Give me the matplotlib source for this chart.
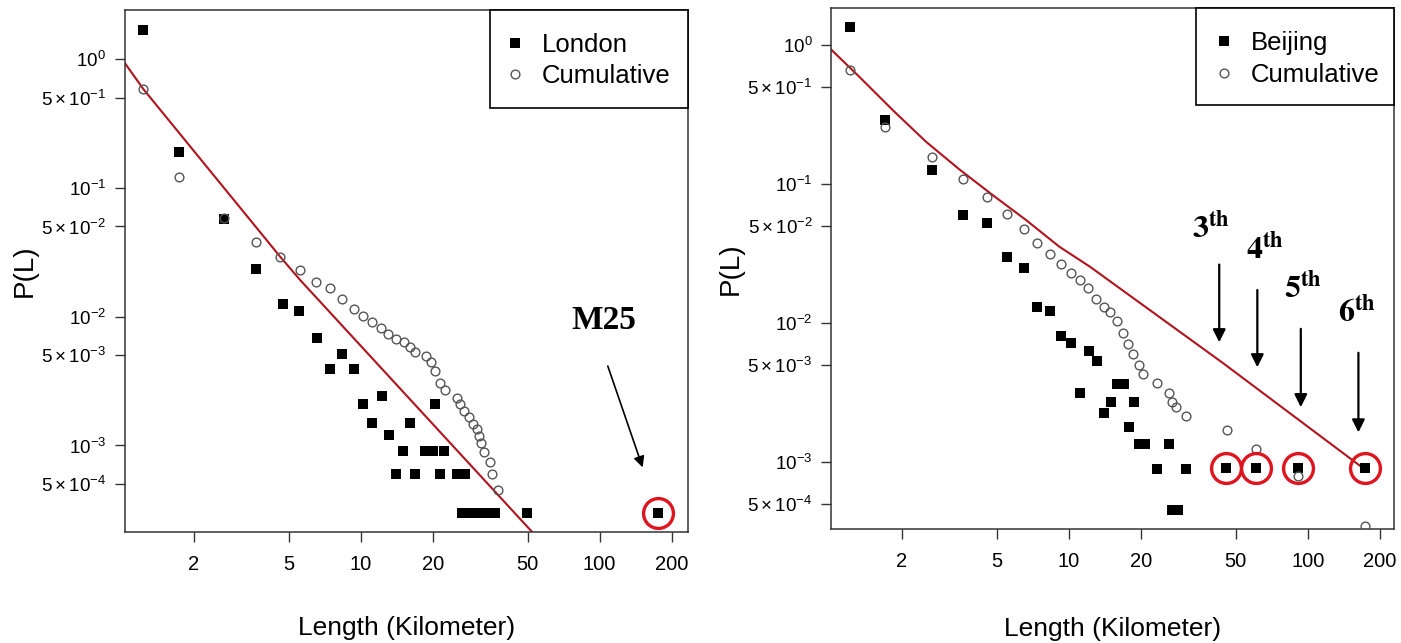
import numpy as np
import matplotlib
matplotlib.use('Agg')
import matplotlib.pyplot as plt
from matplotlib.patches import Rectangle
from matplotlib.ticker import NullLocator

plt.rcParams['font.family'] = 'Liberation Sans'
plt.rcParams['mathtext.fontset'] = 'custom'
plt.rcParams['mathtext.rm'] = 'Liberation Sans'
plt.rcParams['mathtext.it'] = 'Liberation Sans:italic'
plt.rcParams['mathtext.bf'] = 'Liberation Sans:bold'

# ---- London (left) ----
london_L = [1.23, 1.73, 2.69, 3.65, 4.73, 5.54, 6.55, 7.47, 8.38, 9.36, 10.26, 11.2,
            12.25, 13.1, 14.0, 15.0, 16.0, 16.8, 18.5, 20.0, 20.5, 21.5, 22.4, 25.2,
            27.4, 26.6, 28.0, 29.5, 31.0, 32.7, 34.5, 36.5, 49.5, 176]
london_P = [1.67, 0.188, 0.057, 0.0232, 0.0125, 0.0110, 0.0068, 0.0039, 0.0051, 0.0039,
            0.0021, 0.0015, 0.0024, 0.0012, 0.0006, 0.0009, 0.0015, 0.0006, 0.0009, 0.0009,
            0.0021, 0.0006, 0.0009, 0.0006, 0.0006, 0.0003, 0.0003, 0.0003, 0.0003, 0.0003,
            0.0003, 0.0003, 0.0003, 0.0003]
london_cum_L = [1.23, 1.73, 2.69, 3.65, 4.61, 5.56, 6.51, 7.45, 8.38, 9.38, 10.26, 11.2,
                12.1, 13.06, 14.07, 15.1, 16.0, 16.9, 18.7, 19.7, 20.5, 21.5, 22.5, 25.2,
                26.1, 27.1, 28.4, 29.4, 30.6, 31.4, 31.9, 32.9, 34.6, 35.5, 37.6]
london_cum_P = [0.582, 0.120, 0.058, 0.038, 0.029, 0.0231, 0.0186, 0.0166, 0.01375, 0.01143,
                0.01014, 0.00912, 0.00819, 0.00732, 0.00672, 0.00634, 0.00583, 0.00533,
                0.00494, 0.00446, 0.00378, 0.00306, 0.00269, 0.00234, 0.00209, 0.00186,
                0.00167, 0.00148, 0.00133, 0.00119, 0.00104, 0.00089, 0.00074, 0.0006, 0.00045]
london_fit_L = [1.0, 1.231, 4.61, 5.58, 52.3]
london_fit_P = [1.0, 0.582, 0.029, 0.0192, 2.12e-4]
london_hl_L = [176]
london_hl_P = [0.0003]

# ---- Beijing (right) ----
beijing_L = [1.214, 1.70, 2.67, 3.62, 4.56, 5.51, 6.48, 7.38, 8.37, 9.25, 10.24, 11.14,
             12.1, 13.13, 14.0, 14.97, 15.87, 17.0, 17.8, 18.7, 19.7, 20.8, 23.4, 26.2,
             26.97, 28.5, 30.8, 45.5, 60.8, 91.3, 174]
beijing_P = [1.35, 0.289, 0.126, 0.0598, 0.0524, 0.0297, 0.0249, 0.0131, 0.0122, 0.0081,
             0.00714, 0.00313, 0.00632, 0.00535, 0.00225, 0.0027, 0.00362, 0.00362, 0.00179,
             0.0027, 0.00135, 0.00135, 0.00089, 0.00135, 0.00045, 0.00045, 0.00089, 0.0009,
             0.0009, 0.0009, 0.0009]
beijing_cum_L = [1.214, 1.70, 2.67, 3.60, 4.56, 5.51, 6.48, 7.38, 8.34, 9.30, 10.2, 11.14,
                 12.07, 13.03, 14.03, 14.87, 15.87, 16.8, 17.7, 18.6, 19.7, 20.5, 23.3, 26.2,
                 27.0, 28.1, 30.9, 45.8, 60.8, 91.3, 174]
beijing_cum_P = [0.665, 0.258, 0.1556, 0.1086, 0.0810, 0.0608, 0.0472, 0.0376, 0.0314, 0.0266,
                 0.0229, 0.0204, 0.01786, 0.01496, 0.0131, 0.01206, 0.0104, 0.00843, 0.00702,
                 0.00595, 0.00499, 0.00428, 0.00372, 0.00315, 0.00272, 0.00247, 0.00215,
                 0.0017, 0.00124, 0.00079, 0.000347]
beijing_fit_L = [1.0, 1.328, 1.832, 2.526, 3.481, 4.802, 6.62, 9.13, 12.27, 44.33, 84.3, 170.9]
beijing_fit_P = [0.947, 0.591, 0.3406, 0.2015, 0.1276, 0.0833, 0.0551, 0.0354, 0.0254,
                 0.00513, 0.00224, 0.000901]
beijing_hl_L = [45.5, 60.8, 91.3, 174]
beijing_hl_P = [0.0009, 0.0009, 0.0009, 0.0009]

xticks = [2, 5, 10, 20, 50, 100, 200]
xtick_labels = ['2', '5', '10', '20', '50', '100', '200']
yticks = [1, 5e-1, 1e-1, 5e-2, 1e-2, 5e-3, 1e-3, 5e-4]
ytick_labels = [r'$10^{0}$', r'$5\times10^{-1}$', r'$10^{-1}$', r'$5\times10^{-2}$',
                r'$10^{-2}$', r'$5\times10^{-3}$', r'$10^{-3}$', r'$5\times10^{-4}$']

# ring labels on Beijing panel: text (L, P), arrow tail/head (L, P)
ring_text = [r'$\mathbf{3}^{\mathbf{th}}$', r'$\mathbf{4}^{\mathbf{th}}$',
             r'$\mathbf{5}^{\mathbf{th}}$', r'$\mathbf{6}^{\mathbf{th}}$']
ring_text_L = [39.4, 66.1, 95.9, 160.4]
ring_text_P = [0.0483, 0.034, 0.0176, 0.0119]
ring_arrow_L = [42.6, 61.5, 93.5, 162.9]
ring_arrow_top = [0.0276, 0.0181, 0.00952, 0.0064]
ring_arrow_bot = [0.00695, 0.00459, 0.00237, 0.00156]

SPINE = '#333333'
RED_LINE = '#b3131d'
RED_RING = '#e0141e'

fig = plt.figure(figsize=(14.01, 6.43), dpi=100)
axL = fig.add_axes([0.0892, 0.1722, 0.4018, 0.8122])
axR = fig.add_axes([0.5933, 0.1768, 0.4014, 0.8103])


def panel(ax, sq_L, sq_P, cum_L, cum_P, fit_L, fit_P, hl_L, hl_P, name,
          xlim, ylim, box_xy, leg_xy, xlab_y):
    ax.set_xscale('log')
    ax.set_yscale('log')
    ax.plot(fit_L, fit_P, '-', color=RED_LINE, lw=1.5, zorder=2)
    ax.plot(sq_L, sq_P, 's', ms=6.8, color='black', mew=0, zorder=3, label=name)
    ax.plot(cum_L, cum_P, 'o', ms=6.3, mfc='none', mec='#555555', mew=1.0, zorder=4,
            label='Cumulative')
    ax.plot(hl_L, hl_P, 'o', ms=21.5, mfc='none', mec=RED_RING, mew=2.4, zorder=5)
    ax.set_xlim(*xlim)
    ax.set_ylim(*ylim)
    ax.set_xticks(xticks)
    ax.set_xticklabels(xtick_labels)
    ax.set_yticks(yticks)
    ax.set_yticklabels(ytick_labels)
    ax.xaxis.set_minor_locator(NullLocator())
    ax.yaxis.set_minor_locator(NullLocator())
    ax.tick_params(axis='x', direction='out', length=7.5, width=1.0, color=SPINE,
                   labelsize=14.5, pad=9)
    ax.tick_params(axis='y', direction='out', length=7.5, width=1.0, color=SPINE,
                   labelsize=13.5, pad=6)
    for s in ax.spines.values():
        s.set_color(SPINE)
        s.set_linewidth(1.1)
    ax.set_xlabel('Length (Kilometer)', fontsize=19)
    ax.set_ylabel('P(L)', fontsize=20)
    ax.xaxis.set_label_coords(0.5, xlab_y)
    ax.yaxis.set_label_coords(-0.155, 0.5)

    ax.add_patch(Rectangle(box_xy, 1 - box_xy[0], 1 - box_xy[1], transform=ax.transAxes,
                           facecolor='white', edgecolor='black', lw=1.2, zorder=6,
                           clip_on=False))
    leg = ax.legend(loc='center left', bbox_to_anchor=leg_xy, frameon=False, fontsize=18.5,
                    handlelength=1.0, handletextpad=0.55, borderpad=0, borderaxespad=0,
                    labelspacing=0.3, numpoints=1)
    leg.set_zorder(7)
    return ax


panel(axL, london_L, london_P, london_cum_L, london_cum_P, london_fit_L, london_fit_P,
      london_hl_L, london_hl_P, 'London', (1.031, 234), (2.12e-4, 2.39),
      (0.648, 0.813), (0.6696, 0.9033), -0.160)
panel(axR, beijing_L, beijing_P, beijing_cum_L, beijing_cum_P, beijing_fit_L, beijing_fit_P,
      beijing_hl_L, beijing_hl_P, 'Beijing', (1.0125, 228.6), (3.28e-4, 1.84),
      (0.6495, 0.8144), (0.675, 0.9033), -0.168)

# M25 annotation
axL.text(103.7, 0.0094, 'M25', fontfamily='Liberation Serif', fontweight='bold',
         fontsize=24, ha='center', va='center')
axL.annotate('', xy=(152.6, 0.000645), xytext=(107.2, 0.00433),
             arrowprops=dict(arrowstyle='-|>', color='black', lw=1.2, mutation_scale=16))

# ring road labels on Beijing
for t, tl, tp, al, a0, a1 in zip(ring_text, ring_text_L, ring_text_P, ring_arrow_L,
                                 ring_arrow_top, ring_arrow_bot):
    axR.text(tl, tp, t, math_fontfamily='stix', fontsize=23, ha='center', va='center')
    axR.annotate('', xy=(al, a1), xytext=(al, a0),
                 arrowprops=dict(arrowstyle='-|>', color='black', lw=1.6, mutation_scale=19))

fig.savefig('out.png', dpi=100)
